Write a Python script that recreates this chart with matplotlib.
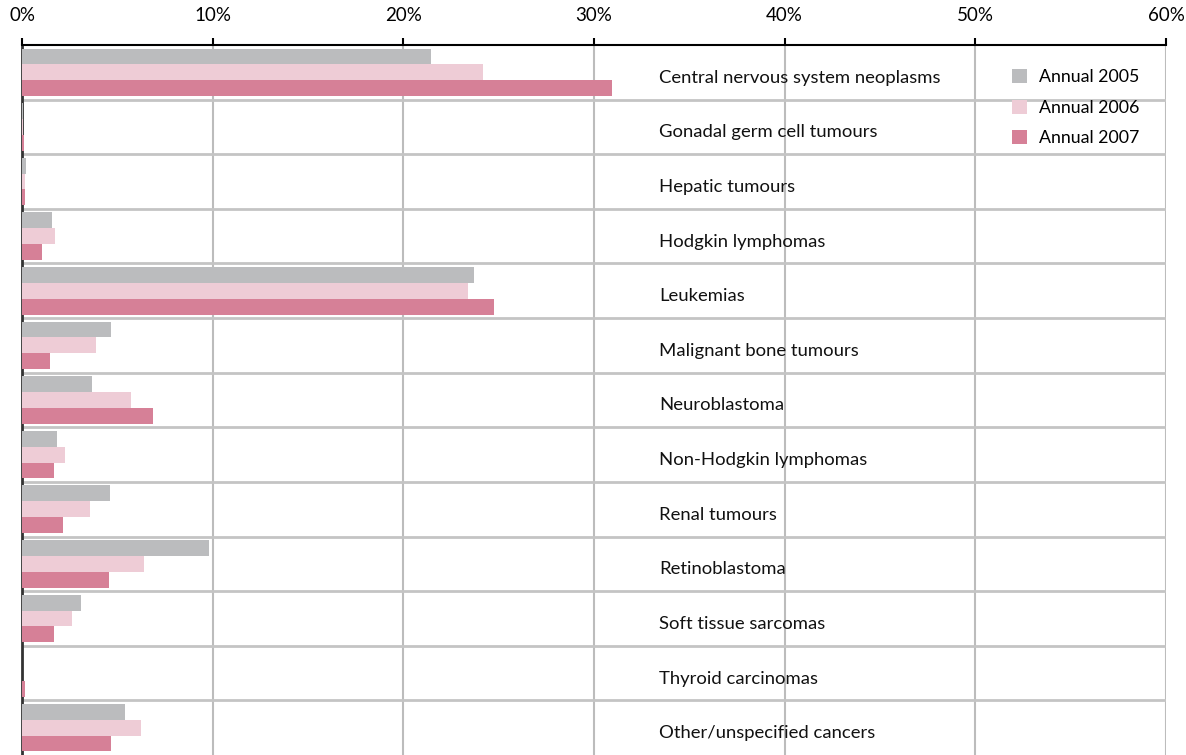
import numpy as np
import matplotlib.pyplot as plt
from matplotlib.ticker import PercentFormatter

categories = ["Central nervous system neoplasms", "Gonadal germ cell tumours",
              "Hepatic tumours", "Hodgkin lymphomas", "Leukemias",
              "Malignant bone tumours", "Neuroblastoma", "Non-Hodgkin lymphomas",
              "Renal tumours", "Retinoblastoma", "Soft tissue sarcomas",
              "Thyroid carcinomas", "Other/unspecified cancers"]
annual_2005 = [21.45, 0.07, 0.19, 1.56, 23.7, 4.65, 3.65, 1.82, 4.6, 9.79, 3.08, 0.0, 5.38]
annual_2006 = [24.17, 0.07, 0.14, 1.71, 23.4, 3.86, 5.70, 2.24, 3.55, 6.38, 2.6, 0.0, 6.22]
annual_2007 = [30.94, 0.09, 0.14, 1.03, 24.75, 1.45, 6.85, 1.66, 2.13, 4.55, 1.66, 0.14, 4.65]
series = ["Annual 2005", "Annual 2006", "Annual 2007"]
colors = ["#bbbcbe", "#eeccd6", "#d68097"]

plt.rcParams['font.family'] = ['Lato', 'DejaVu Sans']

fig = plt.figure(figsize=(11.86, 7.55), dpi=100)
ax = fig.add_axes([22/1186, 0, 1144/1186, 1 - 45/755])

y = np.arange(len(categories))
h = 0.29
for k, (vals, lab, c) in enumerate(zip([annual_2005, annual_2006, annual_2007], series, colors)):
    ax.barh(y + (k - 1) * h, vals, height=h, color=c, label=lab, zorder=3)

for i in range(len(categories) - 1):
    ax.axhline(i + 0.5, color="#c4c4c4", lw=2, zorder=2)
for i, name in enumerate(categories):
    ax.text(33.4, i + 0.1, name, va="center", ha="left", fontsize=13.3, color="#111111", zorder=4)

ax.set_xlim(0, 60)
ax.set_ylim(len(categories) - 0.5, -0.5)
ax.set_xticks(np.arange(0, 61, 10))
ax.xaxis.set_major_formatter(PercentFormatter(decimals=0))
ax.xaxis.tick_top()
ax.tick_params(axis="x", direction="out", length=5, width=1.5, labelsize=13.5, pad=10)
ax.set_yticks([])
ax.grid(axis="x", color="#bcbcbc", lw=1.5, zorder=1)
for s in ["right", "bottom"]:
    ax.spines[s].set_visible(False)
ax.spines["top"].set_linewidth(1.5)
ax.spines["left"].set_linewidth(2)
ax.spines["left"].set_color("#333333")

ax.legend(loc="upper left", bbox_to_anchor=(0.865, 0.966), frameon=False, fontsize=12.8,
          handlelength=0.85, handleheight=0.85, handletextpad=0.7, labelspacing=0.8,
          borderpad=0, borderaxespad=0)

fig.savefig("out.png", dpi=100)
